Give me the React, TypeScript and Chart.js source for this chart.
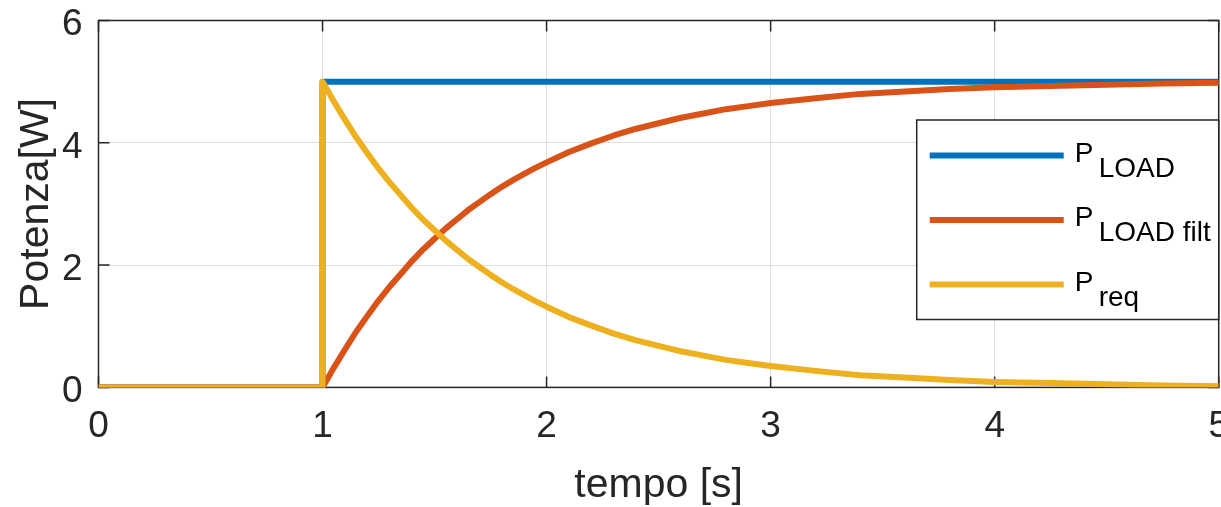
import React, { useEffect, useRef } from "react";
import { Chart, registerables } from "chart.js";

Chart.register(...registerables);

// ---- data ----
const xTicks = [0, 1, 2, 3, 4, 5];
const yTicks = [0, 2, 4, 6];

const tLoad = [0, 1, 1, 5];
const pLoad = [0, 0, 5, 5];

const tFilt = [0, 1, 1.05, 1.1, 1.15, 1.2, 1.25, 1.3, 1.35, 1.4, 1.45, 1.5, 1.55, 1.6, 1.65, 1.7, 1.75, 1.8, 1.85, 1.9, 1.95, 2.0, 2.1, 2.2, 2.3, 2.4, 2.5, 2.6, 2.7, 2.8, 2.9, 3.0, 3.2, 3.4, 3.6, 3.8, 4.0, 4.25, 4.5, 4.75, 5.0];
const pFilt = [0, 0, 0.32, 0.62, 0.91, 1.17, 1.42, 1.65, 1.86, 2.07, 2.26, 2.43, 2.6, 2.75, 2.9, 3.03, 3.16, 3.28, 3.39, 3.49, 3.59, 3.68, 3.85, 3.99, 4.12, 4.23, 4.32, 4.41, 4.48, 4.55, 4.6, 4.65, 4.73, 4.8, 4.84, 4.88, 4.91, 4.93, 4.95, 4.97, 4.98];

const tReq = [0, 1, 1, 1.05, 1.1, 1.15, 1.2, 1.25, 1.3, 1.35, 1.4, 1.45, 1.5, 1.55, 1.6, 1.65, 1.7, 1.75, 1.8, 1.85, 1.9, 1.95, 2.0, 2.1, 2.2, 2.3, 2.4, 2.5, 2.6, 2.7, 2.8, 2.9, 3.0, 3.2, 3.4, 3.6, 3.8, 4.0, 4.25, 4.5, 4.75, 5.0];
const pReq = [0, 0, 5, 4.68, 4.38, 4.09, 3.83, 3.58, 3.35, 3.14, 2.93, 2.74, 2.57, 2.4, 2.25, 2.1, 1.97, 1.84, 1.72, 1.61, 1.51, 1.41, 1.32, 1.15, 1.01, 0.88, 0.77, 0.68, 0.59, 0.52, 0.45, 0.4, 0.35, 0.27, 0.2, 0.16, 0.12, 0.09, 0.07, 0.05, 0.03, 0.02];

const legendMain = ["P", "P", "P"];
const legendSub = ["LOAD", "LOAD filt", "req"];
const xTitle = "tempo [s]";
const yTitle = "Potenza[W]";

const COLORS = ["#0072BD", "#D95319", "#EDB120"];
const FONT = "'Liberation Sans', Arial, Helvetica, sans-serif";
const TEXT = "#262626";

// canvas is a bit larger than the window and shifted so that the plot box sits where the reference has it
const SHIFT_Y = 14;
const CANVAS_W = 1250;
const CANVAS_H = 507 + SHIFT_Y;

function pts(t: number[], v: number[]) {
  return t.map((x, i) => ({ x, y: v[i] }));
}

const decorPlugin = {
  id: "decor",
  beforeDatasetsDraw(chart: any) {
    const { ctx, chartArea: a, scales } = chart;
    ctx.save();
    ctx.strokeStyle = TEXT;
    ctx.lineWidth = 1.5;
    ctx.strokeRect(a.left, a.top, a.right - a.left, a.bottom - a.top);
    const L = 11;
    ctx.beginPath();
    scales.x.ticks.forEach((t: any) => {
      const px = scales.x.getPixelForValue(t.value);
      ctx.moveTo(px, a.bottom);
      ctx.lineTo(px, a.bottom - L);
      ctx.moveTo(px, a.top);
      ctx.lineTo(px, a.top + L);
    });
    scales.y.ticks.forEach((t: any) => {
      const py = scales.y.getPixelForValue(t.value);
      ctx.moveTo(a.left, py);
      ctx.lineTo(a.left + L, py);
      ctx.moveTo(a.right, py);
      ctx.lineTo(a.right - L, py);
    });
    ctx.stroke();
    ctx.restore();
  },
  afterDraw(chart: any) {
    const { ctx, chartArea: a } = chart;
    ctx.save();
    // axis titles
    ctx.fillStyle = TEXT;
    ctx.font = `41px ${FONT}`;
    ctx.textAlign = "center";
    ctx.textBaseline = "alphabetic";
    ctx.fillText(xTitle, (a.left + a.right) / 2, a.bottom + 109.6);
    ctx.save();
    ctx.translate(48, (a.top + a.bottom) / 2);
    ctx.rotate(-Math.PI / 2);
    ctx.fillText(yTitle, 0, 0);
    ctx.restore();

    // legend
    const bx = a.right - 302;
    const by = a.top + 99.5;
    const bw = a.right - bx;
    const bh = 199.5;
    ctx.fillStyle = "#ffffff";
    ctx.fillRect(bx, by, bw, bh);
    ctx.strokeStyle = TEXT;
    ctx.lineWidth = 1.5;
    ctx.strokeRect(bx, by, bw, bh);
    const rowY = [35.5, 100, 164.5];
    ctx.font = `28px ${FONT}`;
    ctx.textAlign = "left";
    legendSub.forEach((sub, i) => {
      const y = by + rowY[i];
      ctx.strokeStyle = COLORS[i];
      ctx.lineWidth = 6;
      ctx.beginPath();
      ctx.moveTo(bx + 13, y);
      ctx.lineTo(bx + 147, y);
      ctx.stroke();
      ctx.fillStyle = "#000000";
      ctx.fillText(legendMain[i], bx + 158, y + 6);
      ctx.fillText(sub, bx + 182, y + 21);
    });
    ctx.restore();
  },
};

export default function App() {
  const ref = useRef<HTMLCanvasElement | null>(null);
  useEffect(() => {
    document.body.style.margin = "0";
    const canvas = ref.current!;
    const tickFont = { family: FONT, size: 37, lineHeight: 1 };
    const chart = new Chart(canvas, {
      type: "line",
      data: {
        datasets: [
          { label: "req", data: pts(tReq, pReq), borderColor: COLORS[2], order: 0 },
          { label: "filt", data: pts(tFilt, pFilt), borderColor: COLORS[1], order: 1 },
          { label: "load", data: pts(tLoad, pLoad), borderColor: COLORS[0], order: 2 },
        ].map((d) => ({
          ...d,
          borderWidth: 6,
          pointRadius: 0,
          tension: 0,
          fill: false,
          borderJoinStyle: "round" as const,
          borderCapStyle: "butt" as const,
        })),
      },
      options: {
        animation: false,
        responsive: false,
        events: [],
        layout: { padding: 0 },
        plugins: { legend: { display: false }, tooltip: { enabled: false } },
        scales: {
          x: {
            type: "linear",
            min: xTicks[0],
            max: xTicks[xTicks.length - 1],
            afterBuildTicks: (s: any) => {
              s.ticks = xTicks.map((v) => ({ value: v }));
            },
            afterFit: (s: any) => {
              s.height = 119.6;
            },
            ticks: { font: tickFont, color: TEXT, padding: 21, maxRotation: 0, autoSkip: false },
            grid: { color: "#dfdfdf", lineWidth: 1, drawTicks: false },
            border: { display: false },
          },
          y: {
            type: "linear",
            min: yTicks[0],
            max: yTicks[yTicks.length - 1],
            afterBuildTicks: (s: any) => {
              s.ticks = yTicks.map((v) => ({ value: v }));
            },
            afterFit: (s: any) => {
              s.width = 98.5;
            },
            ticks: { font: tickFont, color: TEXT, padding: 16, labelOffset: 4.5 },
            grid: { color: "#dfdfdf", lineWidth: 1, drawTicks: false },
            border: { display: false },
          },
        },
      },
      plugins: [decorPlugin],
    });
    return () => chart.destroy();
  }, []);
  return (
    <div style={{ width: 1221, height: 507, overflow: "hidden", background: "#fff" }}>
      <canvas
        ref={ref}
        width={CANVAS_W}
        height={CANVAS_H}
        style={{ display: "block", marginTop: -SHIFT_Y }}
      />
    </div>
  );
}
